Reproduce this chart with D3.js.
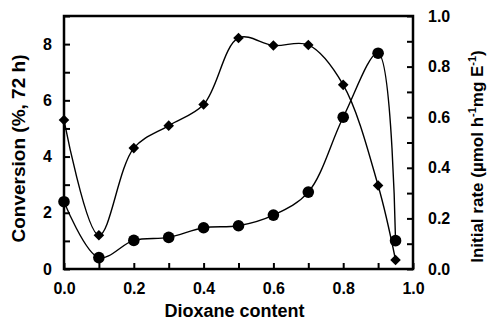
<!DOCTYPE html>
<html>
<head>
<meta charset="utf-8">
<script src="https://cdn.jsdelivr.net/npm/d3@7"></script>
<style>
  html, body { margin: 0; padding: 0; background: #fff; }
  svg { display: block; font-family: "Liberation Sans", Arial, sans-serif; font-weight: bold; }
</style>
</head>
<body>
<svg id="chart" width="487" height="320"></svg>
<script>
// Dioxane content (volume fraction)
const dioxane = [0.0, 0.1, 0.2, 0.3, 0.4, 0.5, 0.6, 0.7, 0.8, 0.9, 0.95];
// Conversion after 72 h (%), left axis — diamonds
const conversion = [5.3, 1.2, 4.3, 5.1, 5.85, 8.22, 7.95, 7.97, 6.55, 2.97, 0.32];
// Initial rate (µmol h-1 mg E-1), right axis — circles
const initialRate = [0.266, 0.045, 0.113, 0.125, 0.163, 0.171, 0.213, 0.304, 0.60, 0.853, 0.112];

const xTicks = [0, 0.1, 0.2, 0.3, 0.4, 0.5, 0.6, 0.7, 0.8, 0.9, 1.0];
const xLabels = ["0.0", "", "0.2", "", "0.4", "", "0.6", "", "0.8", "", "1.0"];
const leftTicks = [0, 1, 2, 3, 4, 5, 6, 7, 8, 9];
const leftLabels = ["0", "", "2", "", "4", "", "6", "", "8", ""];
const rightTicks = [0, 0.1, 0.2, 0.3, 0.4, 0.5, 0.6, 0.7, 0.8, 0.9, 1.0];
const rightLabels = ["0.0", "", "0.2", "", "0.4", "", "0.6", "", "0.8", "", "1.0"];

const svg = d3.select("#chart");
const plotL = 64, plotR = 413, plotT = 16, plotB = 269;

const x = d3.scaleLinear().domain([0, 1]).range([plotL, plotR]);
const yL = d3.scaleLinear().domain([0, 9]).range([plotB, plotT]);
const yR = d3.scaleLinear().domain([0, 1]).range([plotB, plotT]);

const tickLen = 6;

// Axes with inward ticks
const xAxis = d3.axisBottom(x).tickValues(xTicks).tickSize(-tickLen).tickSizeOuter(0)
  .tickFormat((d, i) => xLabels[i]).tickPadding(14);
const gx = svg.append("g").attr("transform", `translate(0,${plotB})`).call(xAxis);

const lAxis = d3.axisLeft(yL).tickValues(leftTicks).tickSize(-tickLen).tickSizeOuter(0)
  .tickFormat((d, i) => leftLabels[i]).tickPadding(12);
const gl = svg.append("g").attr("transform", `translate(${plotL},0)`).call(lAxis);

const rAxis = d3.axisRight(yR).tickValues(rightTicks).tickSize(-tickLen).tickSizeOuter(0)
  .tickFormat((d, i) => rightLabels[i]).tickPadding(15);
const gr = svg.append("g").attr("transform", `translate(${plotR},0)`).call(rAxis);

[gx, gl, gr].forEach(g => {
  g.select(".domain").remove();
  g.selectAll(".tick line").attr("stroke", "#000").attr("stroke-width", 2);
  g.selectAll(".tick text").attr("fill", "#000").style("font-size", "16px").style("font-weight", "bold")
   .style("font-family", "'Liberation Sans', Arial, sans-serif");
});

// Frame
svg.append("rect")
  .attr("x", plotL).attr("y", plotT)
  .attr("width", plotR - plotL).attr("height", plotB - plotT)
  .attr("fill", "none").attr("stroke", "#000").attr("stroke-width", 2.5);

// Curves
const lineL = d3.line().x((d, i) => x(dioxane[i])).y(d => yL(d)).curve(d3.curveCatmullRom.alpha(0.5));
const lineR = d3.line().x((d, i) => x(dioxane[i])).y(d => yR(d)).curve(d3.curveCatmullRom.alpha(0.5));

svg.append("path").attr("d", lineL(conversion))
  .attr("fill", "none").attr("stroke", "#000").attr("stroke-width", 1.4);
svg.append("path").attr("d", lineR(initialRate))
  .attr("fill", "none").attr("stroke", "#000").attr("stroke-width", 1.4);

// Markers: diamonds as squares turned 45°
const diamond = d3.symbol().type(d3.symbolSquare).size(56);
svg.append("g").selectAll("path").data(conversion).join("path")
  .attr("d", diamond)
  .attr("transform", (d, i) => `translate(${x(dioxane[i])},${yL(d)}) rotate(45)`)
  .attr("fill", "#000");

svg.append("g").selectAll("circle").data(initialRate).join("circle")
  .attr("cx", (d, i) => x(dioxane[i])).attr("cy", d => yR(d))
  .attr("r", 5.8).attr("fill", "#000");

// Axis titles
svg.append("text")
  .attr("x", (plotL + plotR) / 2 - 4).attr("y", 317)
  .attr("text-anchor", "middle").style("font-size", "18px")
  .text("Dioxane content");

svg.append("text")
  .attr("transform", `translate(25,${(plotT + plotB) / 2 + 6}) rotate(-90)`)
  .attr("text-anchor", "middle").style("font-size", "19px")
  .text("Conversion (%, 72 h)");

const rt = svg.append("text")
  .attr("transform", `translate(483,${(plotT + plotB) / 2 + 14}) rotate(-90)`)
  .attr("text-anchor", "middle").style("font-size", "17px");
rt.append("tspan").text("Initial rate (µmol h");
rt.append("tspan").attr("dy", -7).style("font-size", "11px").text("-1");
rt.append("tspan").attr("dy", 7).text("mg E");
rt.append("tspan").attr("dy", -7).style("font-size", "11px").text("-1");
rt.append("tspan").attr("dy", 7).text(")");
</script>
</body>
</html>
